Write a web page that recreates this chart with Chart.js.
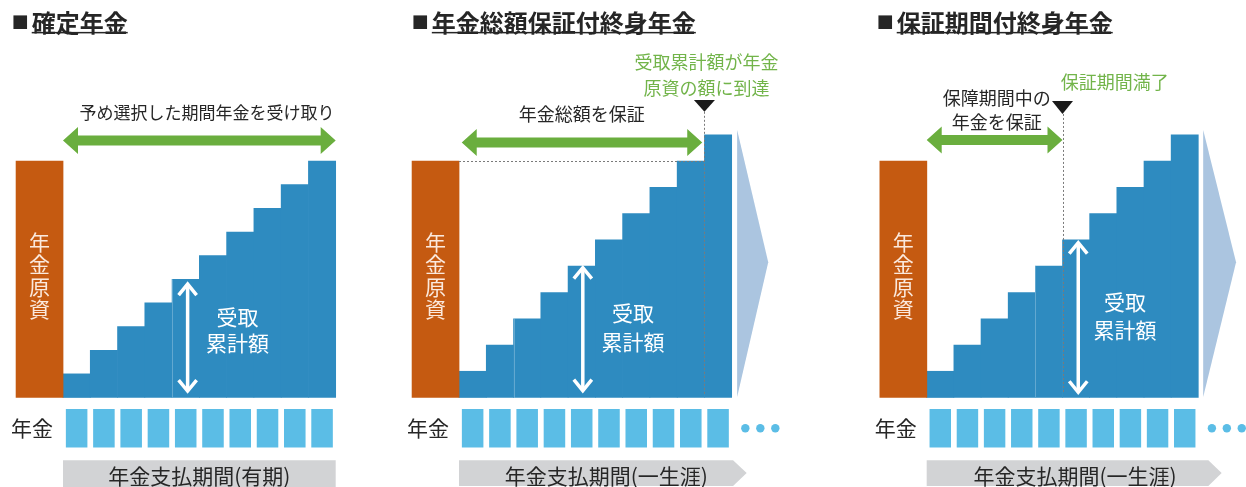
<!DOCTYPE html>
<html lang="ja">
<head>
<meta charset="utf-8">
<title>年金の受取方法</title>
<script src="https://cdn.jsdelivr.net/npm/chart.js@4.4.1/dist/chart.umd.min.js"></script>
<style>
  html, body { margin: 0; padding: 0; background: #fff; }
  #wrap { position: relative; width: 1246px; height: 487px; overflow: hidden; }
  canvas { position: absolute; top: 0; }
</style>
</head>
<body>
<div id="wrap">
  <canvas id="p1" width="400" height="487" style="left:0"></canvas>
  <canvas id="p2" width="460" height="487" style="left:400px"></canvas>
  <canvas id="p3" width="386" height="487" style="left:860px"></canvas>
</div>
<script>
// ---- data ----
const periods = [1, 2, 3, 4, 5, 6, 7, 8, 9, 10];                 // 支払の年次
const fundPrincipal = 100;                                        // 年金原資
const cumFixed = [10, 20, 30, 40, 50, 60, 70, 80, 90, 100];       // 確定年金の受取累計額
const cumTotalGuarantee = [11.1, 22.2, 33.3, 44.4, 55.6, 66.7, 77.8, 88.9, 100, 111.1];
const cumPeriodGuarantee = [11.1, 22.2, 33.3, 44.4, 55.6, 66.7, 77.8, 88.9, 100, 111.1];
const pensionPayments = [1, 1, 1, 1, 1, 1, 1, 1, 1, 1];           // 毎年の年金

// ---- styles ----
const FONT = '"Noto Sans CJK JP", "Noto Sans", sans-serif';
const ORANGE = '#c55a11';
const BLUE = '#2e8bc0';
const LIGHT = '#5bbde6';
const GREEN = '#6aae3e';
const GREEN_TXT = '#72b44a';
const WEDGE = '#abc5e0';
const GRAY = '#d2d3d5';
const INK = '#262626';

// annotation placement, in scale units (x: years, y: amount / y2: payment row)
const panels = [
  {
    id: 'p1', title: '確定年金', values: cumFixed,
    x: { min: -2.310, max: 12.358 }, titleX: -1.88,
    span: { from: 0, to: 10, y: 108.7 },
    spanText: { lines: ['予め選択した期間年金を受け取り'], x: 5.28, y: [120.3], size: 17 },
    received: { x: 4.57, top: 48.4, bottom: 2.3, textX: 6.4, textY: [34.0, 23.0] },
    seam: 4,
    marker: null,
    band: { to: 10, tip: null, label: '年金支払期間(有期)', labelX: 5.0 },
    wedge: null
  },
  {
    id: 'p2', title: '年金総額保証付終身年金', values: cumTotalGuarantee,
    x: { min: -2.1636, max: 14.705 }, titleX: -1.73,
    span: { from: 0.1, to: 8.92, y: 107.8 },
    spanText: { lines: ['年金総額を保証'], x: 4.5, y: [119.9], size: 18 },
    received: { x: 4.54, top: 55.3, bottom: 2.45, textX: 6.38, textY: [35.7, 23.6] },
    seam: 2,
    marker: { x: 9, apex: 120.8, top: 125.8, lines: ['受取累計額が年金', '原資の額に到達'], textX: 9.08, textY: [142, 131], fundLine: true },
    band: { to: 10.05, tip: 10.55, label: '年金支払期間(一生涯)', labelX: 5.4 },
    wedge: { x: 10.2, tip: 11.34, top: 113.1, mid: 57.2, bottom: 0.2, dots: [10.5, 11.05, 11.6] }
  },
  {
    id: 'p3', title: '保証期間付終身年金', values: cumPeriodGuarantee,
    x: { min: -2.4558, max: 11.756 }, titleX: -1.84,
    span: { from: 0, to: 5.0, y: 108.9 },
    spanText: { lines: ['保障期間中の', '年金を保証'], x: 2.58, y: [126.5, 116.6], size: 18 },
    received: { x: 5.58, top: 65.9, bottom: 1.8, textX: 7.3, textY: [40.5, 28.5] },
    seam: 4,
    marker: { x: 5, apex: 119.9, top: 125.4, lines: ['保証期間満了'], textX: 6.92, textY: [133.5], fundLine: false },
    band: { to: 10.37, tip: 10.86, label: '年金支払期間(一生涯)', labelX: 5.46 },
    wedge: { x: 10.18, tip: 11.39, top: 113.1, mid: 57.2, bottom: 0.2, dots: [10.5, 11.05, 11.6] }
  }
];

function hArrow(ctx, x0, x1, y) {
  const shaft = 10, len = 15, half = 13.5;
  ctx.beginPath();
  ctx.moveTo(x0, y);
  ctx.lineTo(x0 + len, y - half);
  ctx.lineTo(x0 + len, y - shaft / 2);
  ctx.lineTo(x1 - len, y - shaft / 2);
  ctx.lineTo(x1 - len, y - half);
  ctx.lineTo(x1, y);
  ctx.lineTo(x1 - len, y + half);
  ctx.lineTo(x1 - len, y + shaft / 2);
  ctx.lineTo(x0 + len, y + shaft / 2);
  ctx.lineTo(x0 + len, y + half);
  ctx.closePath();
  ctx.fill();
}

function vArrow(ctx, x, y0, y1) {
  const half = 9, len = 12;
  ctx.save();
  ctx.strokeStyle = '#fff';
  ctx.lineWidth = 3.5;
  ctx.lineJoin = 'miter';
  ctx.beginPath();
  ctx.moveTo(x, y0 + 1);
  ctx.lineTo(x, y1 - 1);
  ctx.stroke();
  ctx.beginPath();
  ctx.moveTo(x - half, y0 + len);
  ctx.lineTo(x, y0 + 1);
  ctx.lineTo(x + half, y0 + len);
  ctx.moveTo(x - half, y1 - len);
  ctx.lineTo(x, y1 - 1);
  ctx.lineTo(x + half, y1 - len);
  ctx.stroke();
  ctx.restore();
}

function diagramFor(p) {
  return {
    id: 'diagram',
    afterDatasetsDraw(chart) {
      const ctx = chart.ctx;
      const X = v => chart.scales.x.getPixelForValue(v);
      const Y = v => chart.scales.y.getPixelForValue(v);
      const Y2 = v => chart.scales.y2.getPixelForValue(v);
      ctx.save();
      ctx.textBaseline = 'middle';

      // title
      ctx.fillStyle = INK;
      ctx.textAlign = 'left';
      ctx.font = `bold 17px ${FONT}`;
      ctx.fillText('■', X(p.titleX), Y(158.4));
      ctx.font = `bold 24px ${FONT}`;
      const tx = X(p.titleX) + 20;
      ctx.fillText(p.title, tx, Y(158.4));
      ctx.fillRect(tx, Y(158.4) + 9, ctx.measureText(p.title).width, 1.5);

      // seam between the stairs
      const sv = p.values[p.seam];
      ctx.strokeStyle = 'rgba(255,255,255,0.25)';
      ctx.lineWidth = 1;
      ctx.beginPath();
      ctx.moveTo(Math.round(X(p.seam)) + 0.5, Y(sv));
      ctx.lineTo(Math.round(X(p.seam)) + 0.5, Y(0));
      ctx.stroke();

      // 年金原資 (vertical text)
      ctx.textAlign = 'center';
      ctx.fillStyle = '#fbe9dd';
      ctx.font = `21px ${FONT}`;
      [...'年金原資'].forEach((c, i) => ctx.fillText(c, X(-0.86), Y(65.9) + i * 22.6));

      // green span arrow + label
      ctx.fillStyle = GREEN;
      hArrow(ctx, X(p.span.from), X(p.span.to), Y(p.span.y));
      ctx.fillStyle = INK;
      ctx.font = `${p.spanText.size}px ${FONT}`;
      p.spanText.lines.forEach((t, i) => ctx.fillText(t, X(p.spanText.x), Y(p.spanText.y[i])));

      // fund level + guarantee end marker
      if (p.marker) {
        const m = p.marker;
        ctx.save();
        ctx.strokeStyle = '#7a7a7a';
        ctx.lineWidth = 1;
        ctx.setLineDash([2, 2]);
        if (m.fundLine) {
          ctx.beginPath();
          ctx.moveTo(X(0), Math.round(Y(fundPrincipal)) + 0.5);
          ctx.lineTo(X(m.x), Math.round(Y(fundPrincipal)) + 0.5);
          ctx.stroke();
        }
        ctx.beginPath();
        ctx.moveTo(Math.round(X(m.x)) + 0.5, Y(m.apex));
        ctx.lineTo(Math.round(X(m.x)) + 0.5, Y(1.5));
        ctx.stroke();
        ctx.restore();
        ctx.fillStyle = '#1a1a1a';
        ctx.beginPath();
        ctx.moveTo(X(m.x) - 10.5, Y(m.top));
        ctx.lineTo(X(m.x) + 10.5, Y(m.top));
        ctx.lineTo(X(m.x), Y(m.apex));
        ctx.closePath();
        ctx.fill();
        ctx.fillStyle = GREEN_TXT;
        ctx.font = `18px ${FONT}`;
        m.lines.forEach((t, i) => ctx.fillText(t, X(m.textX), Y(m.textY[i])));
      }

      // 受取累計額
      const r = p.received;
      vArrow(ctx, X(r.x), Y(r.top), Y(r.bottom));
      ctx.fillStyle = '#fff';
      ctx.font = `21px ${FONT}`;
      ctx.fillText('受取', X(r.textX), Y(r.textY[0]));
      ctx.fillText('累計額', X(r.textX), Y(r.textY[1]));

      // lifelong continuation
      if (p.wedge) {
        const w = p.wedge;
        ctx.fillStyle = WEDGE;
        ctx.beginPath();
        ctx.moveTo(X(w.x), Y(w.top));
        ctx.lineTo(X(w.tip), Y(w.mid));
        ctx.lineTo(X(w.x), Y(w.bottom));
        ctx.closePath();
        ctx.fill();
        ctx.fillStyle = LIGHT;
        w.dots.forEach(d => {
          ctx.beginPath();
          ctx.arc(X(d), Y2(0.5), 4.2, 0, Math.PI * 2);
          ctx.fill();
        });
      }

      // 年金 row label
      ctx.fillStyle = INK;
      ctx.font = `21px ${FONT}`;
      ctx.fillText('年金', X(-1.14), Y2(0.5));

      // payment period band
      const b = p.band;
      ctx.fillStyle = GRAY;
      ctx.beginPath();
      ctx.moveTo(X(0), Y2(-0.33));
      ctx.lineTo(X(b.to), Y2(-0.33));
      if (b.tip) ctx.lineTo(X(b.tip), Y2(-0.665));
      ctx.lineTo(X(b.to), Y2(-1.0));
      ctx.lineTo(X(0), Y2(-1.0));
      ctx.closePath();
      ctx.fill();
      if (!b.tip) ctx.fillRect(X(0), Y2(-1.0), X(b.to) - X(0), 3);
      ctx.fillStyle = INK;
      ctx.font = `21px ${FONT}`;
      ctx.fillText(b.label, X(b.labelX), Y2(-0.74));

      ctx.restore();
    }
  };
}

function buildChart(p) {
  const canvas = document.getElementById(p.id);
  return new Chart(canvas, {
    type: 'bar',
    data: {
      datasets: [
        {
          label: '年金原資',
          data: [{ x: -0.86, y: fundPrincipal }],
          backgroundColor: ORANGE,
          barThickness: 47,
          grouped: false,
          yAxisID: 'y'
        },
        {
          label: '受取累計額',
          data: periods.map((n, i) => ({ x: n - 0.5, y: p.values[i] })),
          backgroundColor: BLUE,
          barPercentage: 1,
          categoryPercentage: 1,
          grouped: false,
          yAxisID: 'y'
        },
        {
          label: '年金',
          data: periods.map((n, i) => ({ x: n - 0.5, y: pensionPayments[i] })),
          backgroundColor: LIGHT,
          barPercentage: 0.79,
          categoryPercentage: 1,
          grouped: false,
          yAxisID: 'y2'
        }
      ]
    },
    options: {
      responsive: false,
      animation: false,
      events: [],
      layout: { padding: 0 },
      plugins: { legend: { display: false }, tooltip: { enabled: false } },
      scales: {
        x: { type: 'linear', min: p.x.min, max: p.x.max, offset: false, display: false },
        y: { type: 'linear', min: -37.84, max: 168.08, display: false },
        y2: { type: 'linear', min: -1.026, max: 11.623, display: false }
      }
    },
    plugins: [diagramFor(p)]
  });
}

panels.forEach(buildChart);
</script>
</body>
</html>
